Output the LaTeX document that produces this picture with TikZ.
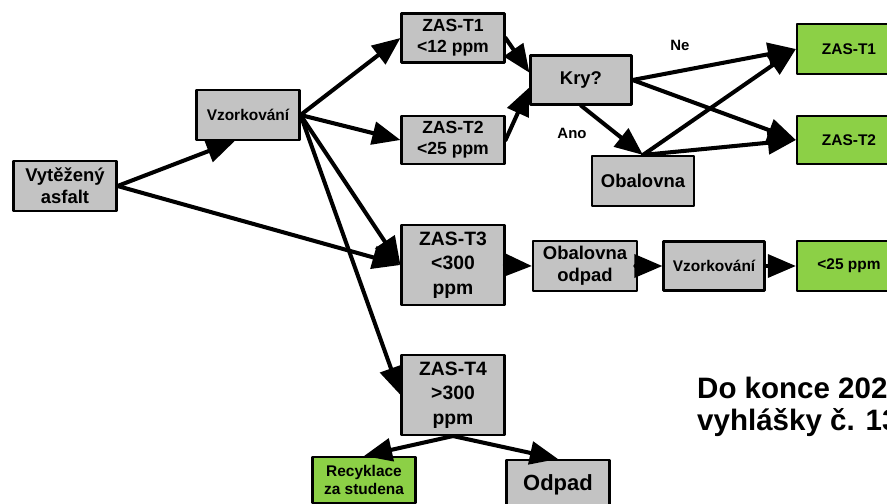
\documentclass[tikz,border=0pt]{standalone}
\usepackage{fontspec}
\setmainfont{Liberation Sans}
\usetikzlibrary{arrows.meta}
\definecolor{boxgray}{RGB}{195,195,195}
\definecolor{okgreen}{RGB}{140,208,70}
\tikzset{
	box/.style={draw=black,line width=1.2pt,fill=boxgray,minimum width=2.06cm,minimum height=1cm,inner sep=1pt,align=center,font=\bfseries\fontsize{10.5}{12.5}\selectfont},
	tallbox/.style={box,minimum height=1.6cm,font=\bfseries\fontsize{11}{14}\selectfont},
	smallbox/.style={box,font=\bfseries\fontsize{8.8}{10.5}\selectfont},
	okbox/.style={smallbox,fill=okgreen},
	conn/.style={->,line width=2.3pt},
	tag/.style={font=\bfseries\fontsize{8.5}{10}\selectfont}
}

\begin{document}
\begin{tikzpicture}[line cap=round,line join=round,>={Triangle[length=16pt,width=13pt]},x=0.02cm,y=-0.02cm]
		\clip(0,0) rectangle (887,504);
		% first column
		\node[box] (vytezeny) at (65,186) {Vytěžený\\asfalt};
		\node[smallbox] (vzork) at (248,115) {Vzorkování};
		% ZAS classes
		\node[box,font=\bfseries\fontsize{10}{12}\selectfont,minimum height=0.98cm] (zast1) at (453,38) {ZAS-T1\\<12 ppm};
		\node[box,font=\bfseries\fontsize{10}{12}\selectfont,minimum height=0.96cm] (zast2) at (453,140) {ZAS-T2\\<25 ppm};
		\node[tallbox] (zast3) at (453,265) {ZAS-T3\\<300\\ppm};
		\node[tallbox] (zast4) at (453,395) {ZAS-T4\\>300\\ppm};
		% decision
		\node[box,minimum width=2.02cm,minimum height=0.98cm] (kry) at (581,80) {Kry?};
		\node[box,minimum width=2.04cm] (obal) at (643,181) {Obalovna};
		\node[okbox,minimum width=2.08cm] (okt1) at (849,49) {ZAS-T1};
		\node[okbox,minimum width=2.08cm,minimum height=0.96cm] (okt2) at (849,140) {ZAS-T2};
		% T3 path
		\node[box,minimum width=2.08cm] (obalodp) at (585,266) {Obalovna\\odpad};
		\node[smallbox,minimum width=2.02cm,minimum height=0.98cm] (vzork2) at (714,266) {Vzorkování};
		\node[okbox,minimum width=2.08cm] (ok25) at (849,266) {<25 ppm};
		% T4 path
		\node[okbox,minimum height=0.92cm] (recykl) at (364,480) {Recyklace\\za studena};
		\node[box,font=\bfseries\fontsize{12.5}{14}\selectfont] (odpad) at (558,485) {Odpad};
		% labels
		\node[tag] (ne) at (680,45) {Ne};
		\node[tag] (ano) at (572,133) {Ano};
		\node[anchor=base west,font=\bfseries\fontsize{16.8}{20}\selectfont] (pozn1) at (691,398) {Do konce 202};
		\node[anchor=base west,font=\bfseries\fontsize{16.8}{20}\selectfont] (pozn2) at (691,430) {vyhlášky č. 13};
		% arrows
		\draw[conn] (vytezeny.east) -- (vzork.-117);
		\draw[conn] (vytezeny.east) -- (zast3.west);
		\draw[conn] (vzork.east) -- (zast1.west);
		\draw[conn] (vzork.east) -- (zast2.west);
		\draw[conn] (vzork.east) -- (zast3.west);
		\draw[conn] (vzork.east) -- (zast4.west);
		\draw[conn] (zast1.east) -- (kry.172);
		\draw[conn] (zast2.east) -- (kry.188);
		\draw[conn] (kry.east) -- (okt1.west);
		\draw[conn] (kry.east) -- (okt2.west);
		\draw[conn] (kry.south) -- (obal.north);
		\draw[conn] (obal.north) -- (okt1.west);
		\draw[conn] (obal.north) -- (okt2.west);
		\draw[conn] (zast3.east) -- (obalodp.west);
		\draw[conn] (obalodp.east) -- (vzork2.west);
		\draw[conn] (vzork2.east) -- (ok25.west);
		\draw[conn] (zast4.south) -- (recykl.north);
		\draw[conn] (zast4.south) -- (odpad.north);
	\end{tikzpicture}
\end{document}
